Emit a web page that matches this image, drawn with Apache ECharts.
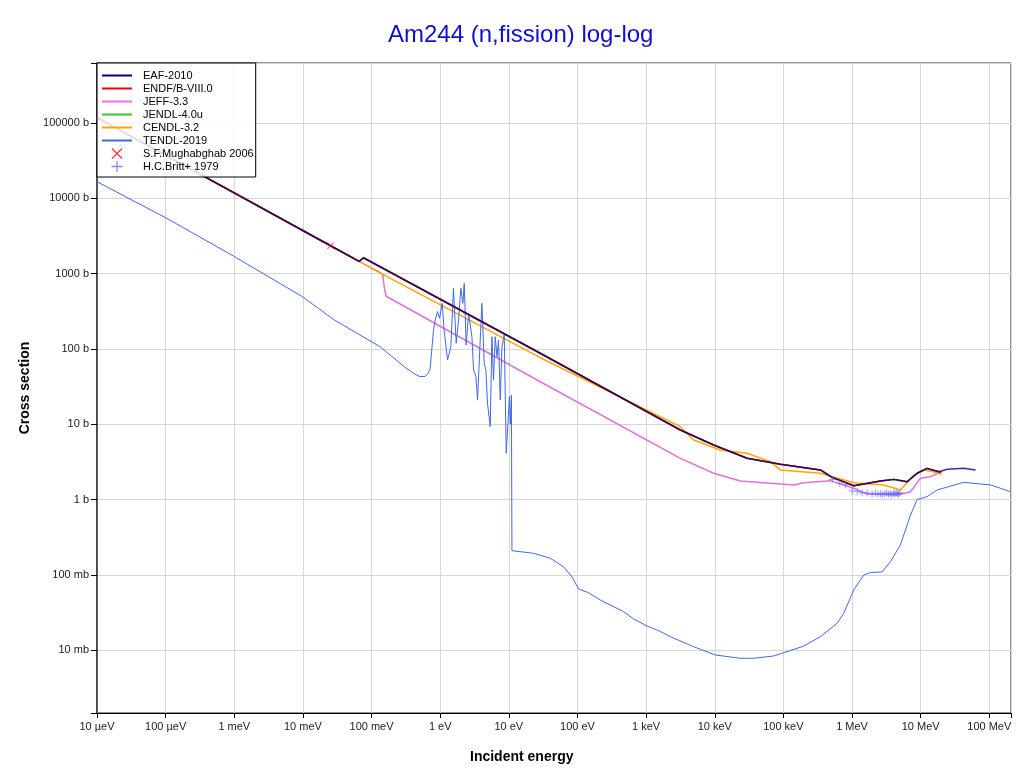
<!DOCTYPE html>
<html><head><meta charset="utf-8">
<script src="https://cdn.jsdelivr.net/npm/echarts@6/dist/echarts.min.js"></script>
<style>html,body{margin:0;padding:0;background:#fff}#c{width:1024px;height:773px}</style>
</head><body><div id="c"></div>
<script>
// ---- tick labels (decade exponents) ----
const xTickExponents = [-5,-4,-3,-2,-1,0,1,2,3,4,5,6,7,8];
const xTickLabels = ['10 µeV','100 µeV','1 meV','10 meV','100 meV','1 eV','10 eV','100 eV','1 keV','10 keV','100 keV','1 MeV','10 MeV','100 MeV'];
const yTickExponents = [-2,-1,0,1,2,3,4,5];
const yTickLabels = ['10 mb','100 mb','1 b','10 b','100 b','1000 b','10000 b','100000 b'];

// ---- data: [energy (eV), cross section (b)] ----
const eaf2010 = [[1e-5,118000],[0.0253,2345],[0.066,1455],[0.07,1520],[0.0762,1626],[28.7,87.5],[3155,8.37],[9640,5.3],[29580,3.53],[90400,2.93],[346000,2.47],[513000,1.97],[1.06e6,1.52],[2.6e6,1.76],[4.06e6,1.85],[6.35e6,1.72],[8.9e6,2.23],[1.24e7,2.59],[1.84e7,2.34],[2.43e7,2.52],[4.25e7,2.6],[6.3e7,2.47]];
const endfb80 = [[1e-5,118000],[0.0253,2345],[0.066,1455],[0.07,1520],[0.0762,1626],[28.7,87.5],[3155,8.37],[9640,5.3],[29580,3.53],[90400,2.93],[346000,2.47],[513000,1.97],[1.06e6,1.52],[2.6e6,1.76],[4.06e6,1.85],[6.35e6,1.72],[8.9e6,2.23],[1.24e7,2.59],[1.84e7,2.34],[2e7,2.3]];
const jendl40u = [[1e-5,118000],[0.0253,2345],[0.066,1455],[0.07,1520],[0.0762,1626],[28.7,87.5],[3155,8.37],[9640,5.3],[29580,3.53],[90400,2.93],[346000,2.47],[513000,1.97],[1.06e6,1.52],[2.6e6,1.76],[4.06e6,1.85],[6.35e6,1.72],[8.9e6,2.23],[1.24e7,2.59],[1.84e7,2.34],[2e7,2.3]];
const jeff33 = [[1e-5,118000],[0.0253,2345],[0.066,1455],[0.135,1030],[0.145,960],[0.155,620],[0.163,500],[0.17,485],[28.7,36.6],[3155,3.52],[9640,2.23],[23600,1.76],[90400,1.61],[141000,1.56],[198000,1.67],[484000,1.78],[1.06e6,1.41],[1.66e6,1.18],[4.54e6,1.15],[7.1e6,1.27],[9.9e6,1.91],[1.39e7,2.01],[2e7,2.34]];
const cendl32 = [[1e-5,118000],[0.0253,2345],[0.1413,992],[28.7,76.4],[3155,9.27],[4920,6.17],[12070,4.54],[29580,4.11],[64600,3.18],[90400,2.47],[346000,2.23],[1.06e6,1.67],[2.9e6,1.56],[5.08e6,1.34],[7.94e6,2.11],[1.11e7,2.47],[1.55e7,2.34],[2e7,2.15]];
const tendl2019 = [[1e-5,16600],[1.04e-4,5420],[9.7e-4,1714],[9.85e-3,493],[0.0287,242],[0.133,107],[0.3,58],[0.408,47.4],[0.5,43],[0.6,43],[0.675,48],[0.714,55],[0.799,178],[0.845,242],[0.914,312],[0.977,255],[1.07,403],[1.14,178],[1.28,71.3],[1.43,107],[1.56,638],[1.71,119],[1.85,242],[2.0,638],[2.14,403],[2.24,743],[2.39,113],[2.59,297],[2.9,145],[3.06,52.5],[3.31,42.8],[3.5,20.9],[3.83,131],[4.05,403],[4.38,64.4],[4.63,52.5],[4.89,19.0],[5.36,9.27],[5.67,145],[5.98,38.6],[6.34,145],[6.71,78.7],[7.08,131],[7.5,20.9],[7.93,107],[8.57,153],[9.17,4.11],[9.7,10.3],[10.2,23.2],[10.5,10],[10.9,24.4],[11.1,24],[11.1,0.209],[22.9,0.193],[40.1,0.166],[62.7,0.128],[83.2,0.094],[104,0.0647],[145,0.0578],[215,0.0462],[470,0.0324],[657,0.0259],[1030,0.0209],[1520,0.0181],[2250,0.0151],[4670,0.0113],[10200,0.0086],[23600,0.00778],[36900,0.00778],[72300,0.00836],[113000,0.00953],[198000,0.0113],[346000,0.0151],[607000,0.0227],[757000,0.0308],[1.06e6,0.0628],[1.48e6,0.0993],[1.85e6,0.107],[2.75e6,0.109],[3.63e6,0.149],[5.08e6,0.25],[7.1e6,0.62],[8.9e6,1.0],[1.24e7,1.09],[1.74e7,1.34],[4.25e7,1.69],[1.04e8,1.56],[2.04e8,1.27]];
const mughabghab2006 = [[0.0253,2345]];
const britt1979 = [[513000,1.85],[662000,1.64],[802000,1.56],[1.0e6,1.30],[1.19e6,1.27],[1.4e6,1.23],[1.66e6,1.22],[1.96e6,1.18],[2.2e6,1.21],[2.4e6,1.17],[2.6e6,1.2],[2.8e6,1.16],[3.0e6,1.19],[3.2e6,1.22],[3.4e6,1.17],[3.6e6,1.2],[3.8e6,1.15],[4.0e6,1.21],[4.2e6,1.18],[4.4e6,1.23],[4.6e6,1.17],[4.8e6,1.2],[5.0e6,1.22]];

const FONT = 'Liberation Sans, Arial, Helvetica, sans-serif';
const plusPath = 'path://M4.4,0H5.6V4.4H10V5.6H5.6V10H4.4V5.6H0V4.4H4.4Z';
const xPath = 'path://M0.8,0L5,4.2L9.2,0L10,0.8L5.8,5L10,9.2L9.2,10L5,5.8L0.8,10L0,9.2L4.2,5L0,0.8Z';
const linePath = 'path://M0,0H30V0.02H0Z M0,4.5H30V6.5H0Z M0,10.98H30V11H0Z';

function labelFor(v, exps, labels) {
  const e = Math.log10(v), r = Math.round(e);
  if (Math.abs(e - r) > 1e-6) return '';
  const i = exps.indexOf(r);
  return i < 0 ? '' : labels[i];
}

function lineSeries(name, data, color, width, z) {
  return { name, type: 'line', data, symbol: 'none', showSymbol: false, z,
    lineStyle: { color, width }, itemStyle: { color }, animation: false, clip: true };
}

const chart = echarts.init(document.getElementById('c'), null, { renderer: 'canvas' });
chart.setOption({
  animation: false,
  backgroundColor: '#fff',
  title: { text: 'Am244 (n,fission) log-log', left: 383, top: 18,
    textStyle: { color: '#1010cc', fontSize: 24, fontWeight: 'normal', fontFamily: FONT } },
  grid: { left: 97, right: 13, top: 63, bottom: 60, show: true, borderColor: '#222', borderWidth: 1 },
  legend: {
    z: 20, zlevel: 0,
    orient: 'vertical', left: 97, top: 63, itemWidth: 30, itemHeight: 11, itemGap: 2,
    padding: [7, 2, 5, 5], borderColor: '#000', borderWidth: 1, borderRadius: 0,
    backgroundColor: 'rgba(255,255,255,0.85)',
    textStyle: { fontSize: 11, fontFamily: FONT, color: '#000', padding: [0, 0, 0, 6] },
    data: [
      { name: 'EAF-2010', icon: linePath, itemStyle: { color: '#000080' } },
      { name: 'ENDF/B-VIII.0', icon: linePath },
      { name: 'JEFF-3.3', icon: linePath, itemStyle: { color: '#f070f0' } },
      { name: 'JENDL-4.0u', icon: linePath },
      { name: 'CENDL-3.2', icon: linePath },
      { name: 'TENDL-2019', icon: linePath },
      { name: 'S.F.Mughabghab 2006', icon: xPath }, { name: 'H.C.Britt+ 1979', icon: plusPath }
    ]
  },
  xAxis: {
    type: 'log', logBase: 10, min: 1e-5, max: 2.07e8, interval: 1, splitNumber: 14,
    axisLine: { show: true, lineStyle: { color: '#000', width: 1 } },
    axisTick: { show: true, length: 5, interval: 0, lineStyle: { color: '#000' } },
    axisLabel: { fontSize: 11, fontFamily: FONT, color: '#222', margin: 8, interval: 0,
      formatter: v => labelFor(v, xTickExponents, xTickLabels) },
    splitLine: { show: true, interval: 0, lineStyle: { color: '#d6d6d6', width: 1 } },
    minorTick: { show: false }
  },
  yAxis: {
    type: 'log', logBase: 10, min: 1.46e-3, max: 6.27e5, splitNumber: 9,
    axisLine: { show: true, lineStyle: { color: '#333', width: 1.5 } },
    axisTick: { show: true, length: 6, lineStyle: { color: '#000' } },
    axisLabel: { fontSize: 11, fontFamily: FONT, color: '#222', margin: 8,
      formatter: v => labelFor(v, yTickExponents, yTickLabels) },
    splitLine: { show: true, lineStyle: { color: '#d6d6d6', width: 1 } },
    name: 'Cross section', nameLocation: 'middle', nameGap: 64, nameRotate: 90,
    nameTextStyle: { fontSize: 14, fontWeight: 'bold', fontFamily: FONT, color: '#000' }
  },
  graphic: [
    { type: 'text', left: 470, top: 750,
      style: { text: 'Incident energy', font: 'bold 14px ' + FONT, fill: '#000' } }
  ],
  series: [
    lineSeries('JEFF-3.3', jeff33, '#e070e0', 1.5, 2),
    lineSeries('CENDL-3.2', cendl32, '#ffa500', 1.5, 2),
    lineSeries('TENDL-2019', tendl2019, '#4169e1', 1, 2),
    lineSeries('JENDL-4.0u', jendl40u, '#32cd32', 1.5, 3),
    lineSeries('ENDF/B-VIII.0', endfb80, '#ff0000', 1.5, 3),
    Object.assign(lineSeries('EAF-2010', eaf2010, '#000080', 1.5, 4), { lineStyle: { color: 'rgba(0,0,128,0.8)', width: 1.5 } }),
    { name: 'S.F.Mughabghab 2006', type: 'scatter', data: mughabghab2006, symbol: xPath, symbolSize: 7, z: 5,
      itemStyle: { color: '#ff0000' } },
    { name: 'H.C.Britt+ 1979', type: 'scatter', data: britt1979, symbol: plusPath, symbolSize: 7, z: 5,
      itemStyle: { color: '#6a6aff' } }
  ]
});
</script></body></html>
